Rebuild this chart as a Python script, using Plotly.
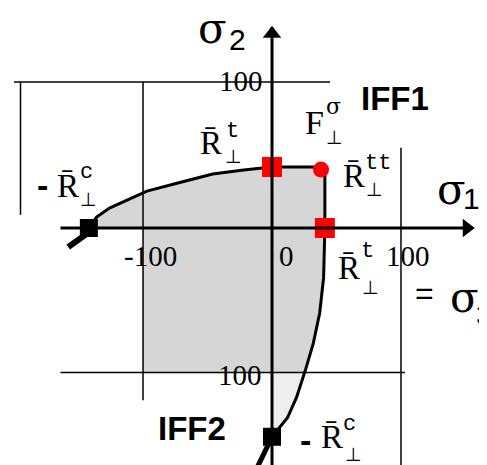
import plotly.graph_objects as go

# envelope (IFF1 upper branch, IFF2 right branch)
upper_x = [-142, -136, -126, -97, -70, -46, -22, -4, 0, 38]
upper_y = [0, 7.5, 13.7, 25.3, 31.5, 37.0, 39.7, 41.1, 41.8, 41.8]
side_x = [41, 41, 40, 37, 32, 26, 19, 12, 5, 0]
side_y = [38, 0, -34, -58, -79, -97, -116, -130, -138, -143]

# grid lines (x0, y0, x1, y1)
grid = [
    (-200, 100, 45, 100),
    (-195, 100, -195, 9),
    (-100, 100, -100, -118),
    (100, 55, 100, -170),
    (-164, -99, 103, -99),
]

# special points
red_sq_x = [0, 41]
red_sq_y = [41.8, 0]
red_dot_x = [38]
red_dot_y = [40]
blk_sq_x = [-142, 0]
blk_sq_y = [0, -143]

# page has an 8px body margin, ranges compensate for it
XR = [-204.7, 172.9]
YR = [-167.8, 150.7]

fig = go.Figure()

# shaded region IFF1 + part below axis
fill_x = upper_x + [41] + side_x[:6] + [25, -100, -100, -142]
fill_y = upper_y + [38] + side_y[:6] + [-99, -99, 0, 0]
fig.add_trace(go.Scatter(x=fill_x, y=fill_y, fill="toself", fillcolor="#d6d6d6",
                         mode="none", hoverinfo="skip"))
low_x = [0, 25] + side_x[6:]
low_y = [-99, -99] + side_y[6:]
fig.add_trace(go.Scatter(x=low_x, y=low_y, fill="toself", fillcolor="#eeeeee",
                         mode="none", hoverinfo="skip"))

for x0, y0, x1, y1 in grid:
    fig.add_shape(type="line", x0=x0, y0=y0, x1=x1, y1=y1,
                  line=dict(color="black", width=1.5))

# axes
fig.add_shape(type="line", x0=-164, y0=0, x1=150, y1=0, line=dict(color="black", width=3))
fig.add_shape(type="line", x0=0, y0=132, x1=0, y1=-170, line=dict(color="black", width=3))
fig.add_trace(go.Scatter(x=[151], y=[0], mode="markers",
                         marker=dict(symbol="triangle-right", size=16, color="black")))
fig.add_trace(go.Scatter(x=[0], y=[133], mode="markers",
                         marker=dict(symbol="triangle-up", size=16, color="black")))

# envelope line
fig.add_trace(go.Scatter(x=upper_x + side_x, y=upper_y + side_y, mode="lines",
                         line=dict(color="black", width=3)))
# tails
fig.add_trace(go.Scatter(x=[-142, -158], y=[-3, -13], mode="lines",
                         line=dict(color="black", width=6)))
fig.add_trace(go.Scatter(x=[0, -12], y=[-143, -165], mode="lines",
                         line=dict(color="black", width=5)))

fig.add_trace(go.Scatter(x=blk_sq_x, y=blk_sq_y, mode="markers",
                         marker=dict(symbol="square", size=18, color="black")))
fig.add_trace(go.Scatter(x=red_sq_x, y=red_sq_y, mode="markers",
                         marker=dict(symbol="square", size=20, color="red")))
fig.add_trace(go.Scatter(x=red_dot_x, y=red_dot_y, mode="markers",
                         marker=dict(symbol="circle", size=16, color="red")))

SER = "Liberation Serif"
SIG = "DejaVu Serif"
MONO = "Liberation Mono"
BOLD = "Liberation Sans"
PERP = "DejaVu Sans"


def label(x, y, text, size, family=SER, anchor="center"):
    fig.add_annotation(x=x, y=y, text=text, showarrow=False,
                       font=dict(family=family, size=size, color="black"),
                       xanchor=anchor, yanchor="middle")


# axis names
label(-46, 137, "σ", 42, SIG)
label(-27, 129, "2", 30, BOLD)
label(139.5, 26.7, "σ", 42, SIG)
label(155, 19.9, "1", 30, BOLD)
label(118.6, -44.5, "=", 32, BOLD)
label(149, -47.3, "σ", 42, SIG)
label(157, -59, "3", 30, BOLD, "left")

# tick numbers
label(-24, 100.7, "100", 29)
label(-94.6, -19.2, "-100", 29)
label(10.9, -19.2, "0", 29)
label(105.4, -19.2, "100", 29)
label(-24.8, -100.7, "100", 29)

label(95.3, 88.4, "<b>IFF1</b>", 33, BOLD)
label(-62, -137, "<b>IFF2</b>", 33, BOLD)

# F perp sigma
label(32.6, 72.6, "F", 34)
label(48, 82.9, "σ", 22, SIG)
label(48.8, 62.3, "⊥", 19, PERP)

# R bar labels: (R x, R y, sup text, sup x, sup y, perp x, perp y)
rlabels = [
    (63.6, 35.6, "tt", 82.2, 44.5, 79.8, 26.7),
    (-47.3, 58.2, "t", -31, 66.4, -30.2, 49.3),
    (-158, 28.8, "c", -143.5, 38, -142.6, 19.9),
    (59.7, -27.4, "t", 74.4, -15.8, 76, -40.4),
    (46.5, -143.2, "c", 59.7, -134.9, 62.8, -154.8),
]
for rx, ry, sup, sx, sy, px, py in rlabels:
    label(rx, ry, "R\u0304", 33)
    label(sx, sy, sup, 22, MONO)
    label(px, py, "⊥", 19, PERP)

label(-178, 29.5, "<b>-</b>", 34, BOLD)
label(25.6, -145.2, "<b>-</b>", 34, BOLD)

fig.update_layout(
    width=487, height=465,
    margin=dict(l=0, r=0, t=0, b=0),
    plot_bgcolor="white", paper_bgcolor="white",
    showlegend=False,
    xaxis=dict(range=XR, visible=False, fixedrange=True),
    yaxis=dict(range=YR, visible=False, fixedrange=True),
)

fig.write_html("out.html")
